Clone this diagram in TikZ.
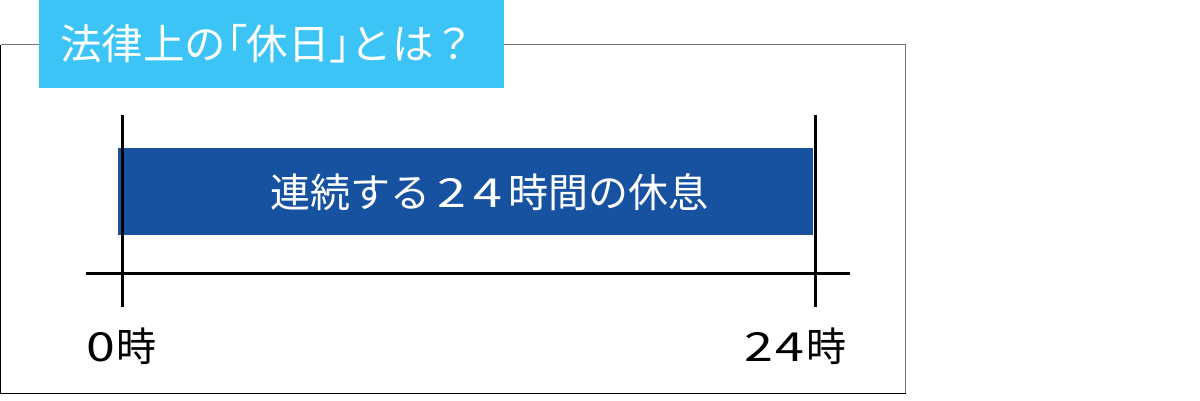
\documentclass[tikz,border=0pt]{standalone}
\usepackage{fontspec}
\newfontfamily\jp{Noto Sans CJK JP}
\newfontfamily\jpp[RawFeature=+palt]{Noto Sans CJK JP}
\newfontfamily\dig[FakeStretch=1.3]{Noto Sans CJK JP}
\definecolor{titlecyan}{RGB}{59,196,245}
\definecolor{barblue}{RGB}{22,82,160}
\definecolor{framegray}{RGB}{120,120,120}
\begin{document}
\begin{tikzpicture}[x=1pt,y=-1pt,
  titlebox/.style={fill=titlecyan,inner sep=0pt,minimum width=465pt,minimum height=88pt,anchor=north west},
  titletext/.style={text=white,inner sep=0pt,anchor=west,font=\jp\fontsize{41.5}{44}\selectfont},
  barbox/.style={fill=barblue,inner sep=0pt,minimum width=695pt,minimum height=87pt,anchor=north west},
  bartext/.style={text=white,inner sep=0pt,anchor=west,font=\jp\fontsize{40}{42}\selectfont},
  axisline/.style={line width=3pt,black},
  ticklabel/.style={font=\jp\fontsize{40}{42}\selectfont,inner sep=0pt,text=black}]
\useasboundingbox (0,0) rectangle (1200,400);
\fill[white] (0,0) rectangle (1200,400);
% frame
\coordinate (fTL) at (0.5,44.5);
\coordinate (fTR) at (905.5,44.5);
\coordinate (fBR) at (905.5,393.5);
\coordinate (fBL) at (0.5,393.5);
\draw[framegray,line width=1pt] (fTL) -- (fTR) -- (fBR);
\draw[black,line width=1pt] (fTL) -- (fBL) -- (fBR);
% title
\node[titlebox] (title) at (39,0) {};
\node[titletext] (titlelabel) at (60,44) {法律上の{\jpp「}休日{\jpp」}とは？};
% bar
\node[barbox] (bar) at (118,148) {};
\node[bartext] (barlabel) at (270,192) {連続する\hspace{7pt}{\dig 2\hspace{7pt}4}\hspace{7pt}時間の休息};
% axis
\coordinate (axL) at (86,273);
\coordinate (axR) at (850,273);
\coordinate (t0top) at (122,115);
\coordinate (t0bot) at (122,307);
\coordinate (t1top) at (815,115);
\coordinate (t1bot) at (815,307);
\draw[axisline] (axL) -- (axR);
\draw[axisline] (t0top) -- (t0bot);
\draw[axisline] (t1top) -- (t1bot);
% labels
\node[ticklabel,anchor=west] (l0) at (86,346) {{\dig 0}\hspace{1pt}時};
\node[ticklabel,anchor=east] (l24) at (847,346) {{\dig 2\hspace{3pt}4}\hspace{2pt}時};
\end{tikzpicture}
\end{document}
